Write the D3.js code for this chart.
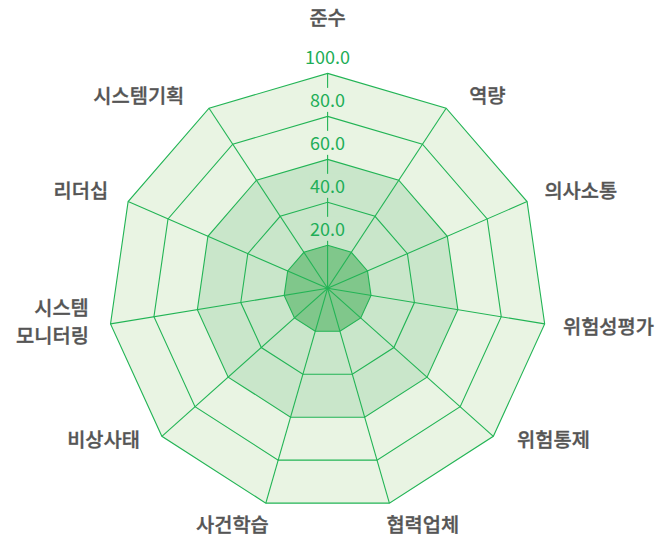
<!DOCTYPE html>
<html>
<head>
<meta charset="utf-8">
<script src="https://cdn.jsdelivr.net/npm/d3@7"></script>
<style>
  html, body { margin: 0; padding: 0; background: #ffffff; }
  svg { display: block; }
</style>
</head>
<body>
<svg id="chart" width="661" height="543"></svg>
<script>
// Axis names, clockwise from the top
const categories = ["준수", "역량", "의사소통", "위험성평가", "위험통제", "협력업체",
                    "사건학습", "비상사태", "시스템\n모니터링", "리더십", "시스템기획"];

// Three filled levels, drawn from the outside in
const levelOuter  = [100, 100, 100, 100, 100, 100, 100, 100, 100, 100, 100];
const levelMiddle = [60, 60, 60, 60, 60, 60, 60, 60, 60, 60, 60];
const levelInner  = [20, 20, 20, 20, 20, 20, 20, 20, 20, 20, 20];

// Ring values and their printed labels
const tickValues = [20, 40, 60, 80, 100];
const tickLabels = ["20.0", "40.0", "60.0", "80.0", "100.0"];

// ---- layout ----
const width = 661, height = 543;
const cx = 327.6, cy = 292.7, R = 219.3;
const hubLift = 4.4;          // the hub sits a little above the frame centre
const n = categories.length;

// name placement: offset of the text edge / middle from the outer vertex
const nameOffsets = [
  [0, -56], [23, -12.5], [17.3, -10.7], [18.3, 2.7], [23.7, 3.7], [-3, 22],
  [3, 22], [-21.9, 3.7], [-21.7, -1.8], [-20, -10.7], [-24.7, -12.5]
];

const colors = {
  grid: "#22b455",
  tick: "#1fae58",
  name: "#555555",
  outer: "#e9f4e3",
  middle: "#c9e6ca",
  inner: "#80c78b"
};

const rScale = d3.scaleLinear().domain([0, 100]).range([0, R]);
const aScale = d3.scaleLinear().domain([0, n]).range([0, 2 * Math.PI]);

function project(i, v) {
  const r = rScale(v);
  const a = aScale(i);
  const t = r / R;
  return [cx + r * Math.sin(a), cy - r * Math.cos(a) - hubLift * (1 - t)];
}

const svg = d3.select("#chart");
const ringLine = d3.line().curve(d3.curveLinearClosed);

// ---- filled levels ----
const levels = [
  { values: levelOuter, fill: colors.outer },
  { values: levelMiddle, fill: colors.middle },
  { values: levelInner, fill: colors.inner }
];
svg.append("g").selectAll("path")
  .data(levels)
  .join("path")
  .attr("d", d => ringLine(d.values.map((v, i) => project(i, v))))
  .attr("fill", d => d.fill)
  .attr("stroke", "none");

// ---- grid rings ----
const grid = svg.append("g")
  .attr("fill", "none")
  .attr("stroke", colors.grid)
  .attr("stroke-width", 1.1);

grid.selectAll("path.ring")
  .data(tickValues)
  .join("path")
  .attr("class", "ring")
  .attr("d", v => ringLine(categories.map((_, i) => project(i, v))));

// ---- spokes ----
grid.selectAll("line.spoke")
  .data(categories)
  .join("line")
  .attr("class", "spoke")
  .attr("x1", (_, i) => project(i, 0)[0])
  .attr("y1", (_, i) => project(i, 0)[1])
  .attr("x2", (_, i) => project(i, 100)[0])
  .attr("y2", (_, i) => project(i, 100)[1]);

// ---- tick labels on the first axis ----
function bandFill(v) {
  // colour of the innermost level that still encloses a point just above ring v
  let fill = "#ffffff";
  levels.forEach(l => { if (l.values[0] > v) fill = l.fill; });
  return fill;
}

const tickG = svg.append("g");
tickValues.forEach((v, k) => {
  const [x, y] = project(0, v);
  const g = tickG.append("g");
  const txt = g.append("text")
    .attr("x", x)
    .attr("y", y - 9.5)
    .attr("text-anchor", "middle")
    .attr("font-family", "'Noto Sans CJK KR', 'Noto Sans', sans-serif")
    .attr("font-size", 18)
    .attr("fill", colors.tick)
    .text(tickLabels[k]);
  const bb = txt.node().getBBox();
  g.insert("rect", "text")
    .attr("x", bb.x - 1)
    .attr("y", bb.y + 2)
    .attr("width", bb.width + 2)
    .attr("height", bb.height - 2)
    .attr("fill", bandFill(v));
});

// ---- axis names ----
const nameSize = 19.8;
const nameG = svg.append("g")
  .attr("font-family", "'Noto Sans CJK KR', 'Noto Sans', sans-serif")
  .attr("font-size", nameSize)
  .attr("font-weight", 500)
  .attr("fill", colors.name)
  .attr("stroke", colors.name)
  .attr("stroke-width", 0.35);

categories.forEach((name, i) => {
  const [vx, vy] = project(i, 100);
  const s = Math.sin(aScale(i));
  const anchor = i === 0 ? "middle" : (i === 5 ? "start" : (i === 6 ? "end" : (s > 0 ? "start" : "end")));
  const x = vx + nameOffsets[i][0];
  const yMid = vy + nameOffsets[i][1];
  const lines = name.split("\n");
  const lineGap = 28.5;
  const text = nameG.append("text")
    .attr("text-anchor", anchor);
  lines.forEach((ln, j) => {
    text.append("tspan")
      .attr("x", x)
      .attr("y", yMid + (j - (lines.length - 1) / 2) * lineGap + 0.36 * nameSize)
      .text(ln);
  });
});
</script>
</body>
</html>
